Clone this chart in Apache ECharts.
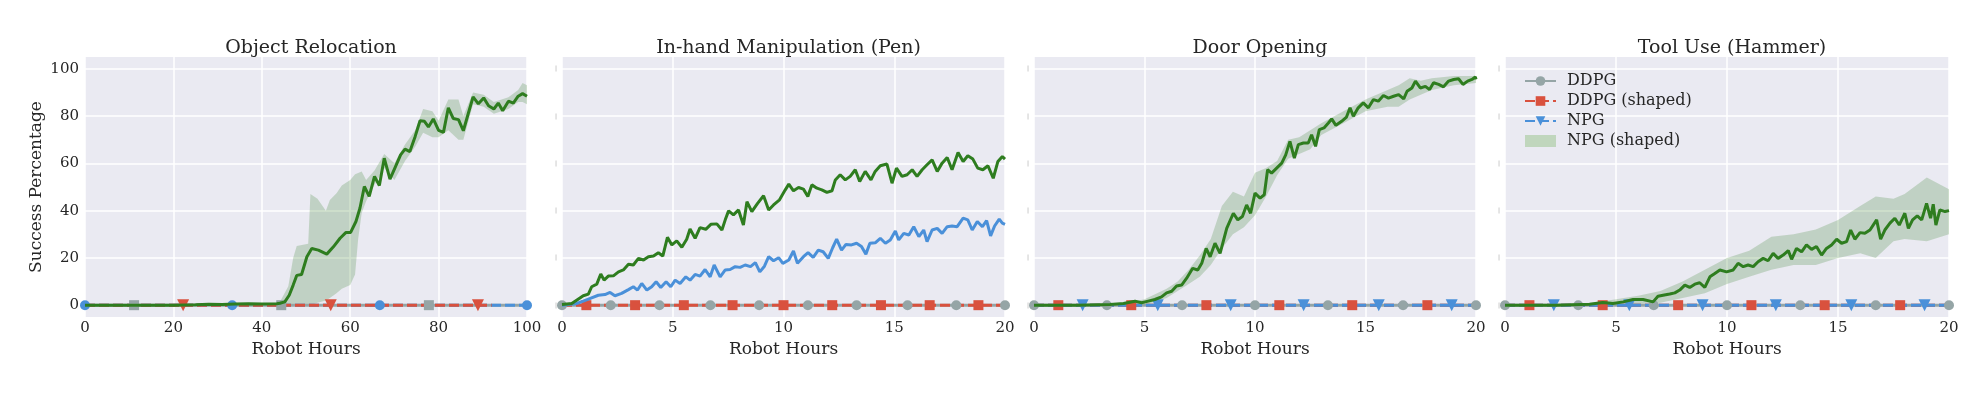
<!DOCTYPE html>
<html><head><meta charset="utf-8">
<script src="https://cdn.jsdelivr.net/npm/echarts@6/dist/echarts.min.js"></script>
<style>html,body{margin:0;padding:0;background:#fff}#c{width:1984px;height:394px}</style>
</head><body><div id="c"></div><script>
// ---------------- data ----------------
const titles = ['Object Relocation', 'In-hand Manipulation (Pen)', 'Door Opening', 'Tool Use (Hammer)'];
const xMaxes = [100, 20, 20, 20];
const xSteps = [20, 5, 5, 5];
const yTicks = [0, 20, 40, 60, 80, 100];
const legendNames = ['DDPG', 'DDPG (shaped)', 'NPG', 'NPG (shaped)'];

// Object Relocation (NPG shaped)
const reloX = [0,5,10,15,20,25,28,31,34,37,40,43.4,44.1,45.2,46.2,47.1,47.9,49.0,50.2,51.3,52.8,54.7,56.2,57.7,59.0,60.1,61.3,62.2,63.2,64.3,65.5,66.6,67.7,69.0,70.1,71.4,72.4,73.5,74.7,75.8,76.8,77.7,78.8,80.0,81.1,82.2,83.3,84.5,85.6,86.7,87.8,89.0,90.2,91.3,92.5,93.5,94.5,95.8,96.9,98.0,99.0,100];
const reloY = [0,0,0,0,0,0.2,0.4,0.3,0.5,0.6,0.5,0.6,0.8,1.4,4.2,8.5,12.6,13,20.5,24,23.3,21.6,24.7,28.3,30.7,30.8,35.4,41,50.2,46,54.5,50.6,62.2,53.3,58,63.6,66,65,71.4,78,77.8,75.4,78.8,74,73.1,83.5,79,78.5,73.8,81,88.1,85.2,87.7,84.4,83,85.5,82.3,86.3,85.5,88.4,89.5,88.4];
const reloBandX = [0,44,46,47.1,47.9,50.5,51.0,52.6,54.5,55.4,56.9,58.1,60.0,61.1,61.8,62.6,63.6,65.5,67.7,70.0,72.4,74.7,76.5,78.6,80.0,82.2,84.5,85.6,87.8,90.2,92.5,95.8,98.0,99.0,100];
const reloBandLo = [0,0,0,0,0,0,0,1,2,3,5,7,8.5,13,28,39,44,51,58,53,61,67,73,71,71,74,70,70,85,84,81,83,86,86,85];
const reloBandHi = [0,1,8,20,25,26,47,45,40,44.5,47.4,50.6,53,55.4,55.9,56.6,53,57,64,60,68,74,83,82,78,87,87,80,90,89,86,88,91,94,93];
const reloBlueMarks = [0, 33.3, 66.7, 100];
const reloGreyMarks = [11.1, 44.4, 77.8];
const reloRedMarks = [22.2, 55.6, 88.9];
const reloRedSpan = [0, 92];

// In-hand Manipulation (Pen)
const penGreenX = [0,0.44,0.66,0.96,1.19,1.34,1.57,1.75,1.9,2.09,2.32,2.55,2.77,3.0,3.22,3.45,3.68,3.9,4.13,4.35,4.55,4.76,4.96,5.18,5.41,5.63,5.78,6.01,6.23,6.49,6.72,6.99,7.22,7.37,7.52,7.74,7.97,8.19,8.35,8.57,8.83,9.1,9.33,9.55,9.82,10.08,10.24,10.45,10.68,10.9,11.1,11.28,11.51,11.73,11.96,12.19,12.34,12.56,12.79,13.01,13.24,13.44,13.69,13.95,14.14,14.37,14.67,14.9,15.1,15.35,15.58,15.81,16.03,16.26,16.48,16.71,16.94,17.16,17.39,17.61,17.88,18.11,18.32,18.55,18.77,19.0,19.23,19.47,19.68,19.88,20];
const penGreenY = [0.3,0.7,2.1,4,4.7,7.8,8.9,13.2,10.6,12.3,12.4,14.1,14.9,17.3,17,19.8,19.1,20.5,20.8,22.2,20.8,28.7,25.5,27.2,24.5,27.9,32.2,28.3,32.8,32.1,34.2,34.4,31.8,36.1,39.9,38.2,40.3,33.9,43.8,39.6,43.1,46.3,40.3,42.4,44.6,48.8,51.2,48.4,49.8,49.1,46,50.9,49.5,48.8,47.7,48.4,53,55.2,53,54.5,57.3,52.3,56.6,53,56.6,59,59.7,51.6,58,54.5,55.2,57.3,54.5,57.3,59.4,61.5,56.6,60.1,62.5,57.3,64.6,60.8,63.2,61.8,58,57.3,59,53.7,60.8,62.9,61.8];
const penBlueX = [0,0.66,0.96,1.25,1.64,1.94,2.17,2.39,2.69,3.0,3.22,3.41,3.6,3.83,4.05,4.25,4.46,4.7,4.91,5.11,5.33,5.59,5.78,6.01,6.23,6.46,6.69,6.87,7.14,7.37,7.59,7.82,8.04,8.27,8.51,8.73,8.93,9.14,9.33,9.55,9.78,9.97,10.24,10.45,10.63,10.9,11.11,11.34,11.57,11.79,12.02,12.22,12.4,12.62,12.82,13.07,13.3,13.52,13.72,13.9,14.14,14.37,14.6,14.82,15.05,15.2,15.43,15.66,15.88,16.11,16.33,16.48,16.71,16.94,17.16,17.39,17.61,17.84,18.11,18.32,18.52,18.75,18.98,19.17,19.35,19.53,19.74,19.88,20];
const penBlueY = [0,0.7,1.7,2.8,4.2,4.5,5.4,4,5,6.6,7.8,6.4,9.2,6.4,7.8,9.9,7.5,9.9,7.8,10.6,9.2,12,10.6,13,12.3,15.1,12,17,12,14.9,15.1,16.3,16,17,16.3,18,14.1,16.5,20.5,18.8,20.1,17.7,19.1,22.9,17.7,20.5,22.2,20.2,23.3,22.6,19.8,24.3,27.9,23.3,25.7,25.5,26.2,24.8,21.6,26.2,26.4,28.3,26.2,27.6,31.4,27.6,30.4,29.7,33.2,29,31.8,26.9,31.8,32.5,30.4,33.2,33.5,33.2,36.8,36.1,31.8,35.4,33.2,35.8,29.3,33.5,36.4,34.7,34.2];
const penGreyMarks = [0,2.2,4.4,6.7,8.9,11.1,13.3,15.6,17.8,20];
const penRedMarks = [1.1,3.3,5.5,7.7,10,12.2,14.4,16.6,18.8];

// Door Opening
const doorX = [0,1.93,3.44,4.05,4.57,4.87,5.17,5.47,5.77,6.0,6.23,6.45,6.68,6.9,7.18,7.41,7.59,7.79,7.97,8.19,8.42,8.72,9.02,9.22,9.43,9.62,9.8,10.0,10.23,10.42,10.57,10.75,10.98,11.21,11.39,11.58,11.78,11.96,12.19,12.41,12.56,12.74,12.91,13.12,13.32,13.47,13.66,13.92,14.14,14.3,14.45,14.67,14.9,15.13,15.36,15.58,15.81,16.04,16.27,16.5,16.73,16.88,17.1,17.26,17.48,17.71,17.9,18.08,18.31,18.53,18.76,18.99,19.21,19.41,19.62,19.82,19.97,20];
const doorY = [0,0,0.3,0.7,1.7,1,1.7,2.4,3.5,5.2,5.9,8.1,8.5,11.3,15.6,14.9,17.7,24,20.5,26.2,21.9,32.5,38.9,36.1,37.5,42.4,38.9,47.4,45.3,46.7,57.3,55.9,58,60.1,63.6,69.3,62.2,67.9,68.6,68.6,72.1,67.2,74.3,75,77.1,78.8,76.1,77.8,79.6,83.5,79.9,83.5,85.6,83.5,87,86.3,88.7,87.6,88.4,89.1,87.3,90.5,91.9,94.8,91.9,92.6,91.2,94.1,93.4,92.4,94.8,95.5,95.8,93.4,94.8,95.5,96.6,95.5];
const doorBandX = [0,4,5,6,6.5,7,7.5,8,8.5,9,9.5,10,10.5,11,11.5,12,12.5,13,14,15,16,16.5,17,17.5,18,19,20];
const doorBandLo = [0,0,0,3,6,9,12,17,24,30,33,38,46,55,62,64,66,72,77,82,84,84,87,89,91,93,94];
const doorBandHi = [0,0.5,2.5,7,10,15,21,28,42,48,46,56,58,61,70,71,74,77,82,87,91,93,96,95,96,97,97];

// Tool Use (Hammer)
const hamX = [0,2.31,3.81,4.41,4.86,5.32,5.77,6.22,6.67,6.89,7.12,7.42,7.65,7.87,8.1,8.32,8.55,8.77,9.0,9.23,9.45,9.68,9.98,10.28,10.5,10.73,10.95,11.18,11.4,11.63,11.85,12.08,12.3,12.53,12.76,12.91,13.13,13.36,13.58,13.81,14.03,14.26,14.48,14.71,14.94,15.16,15.39,15.57,15.76,15.99,16.21,16.44,16.74,16.92,17.11,17.34,17.56,17.76,18.01,18.17,18.36,18.57,18.77,18.99,19.17,19.29,19.41,19.59,19.82,20];
const hamY = [0,0,0.4,1.1,0.7,1.4,2.4,2.4,1.4,3.8,4.2,4.7,5.2,6.4,8.5,7.5,8.9,9.5,7.5,12,13.4,14.9,14.1,14.9,17.7,16.3,17,16.3,18.4,19.8,18.8,21.9,19.8,21.2,23.1,19.4,24,22.6,25.5,23.6,24.8,21.2,24,25.5,27.9,26.2,26.9,31.8,27.9,30.7,30.4,31.8,36.1,27.9,31.8,34.7,36.8,33.9,38.9,32.5,36.1,37.8,36.1,43.1,36.8,42.7,33.9,40.3,39.6,40];
const hamBandX = [0,4,5,6,7,8,9,10,11,12,13,14,15,16,16.7,17.5,18,19,20];
const hamBandLo = [0,0,0,0.5,1,3,5,9,12,15,17,17,20,22,20,27,28,27,30];
const hamBandHi = [0,1,2.5,4,6,10,15,20,23,29,30,32,36,42,46,45,47,54,49];

// zero-line markers for door / hammer
const dhGreyMarks = [0,3.3,6.7,10,13.3,16.7,20];
const dhRedMarks = [1.1,4.4,7.8,11.1,14.4,17.8];
const dhBlueMarks = [2.2,5.6,8.9,12.2,15.6,18.9];

// ---------------- style ----------------
const FONT = 'DejaVu Serif';
const C = { grey:'#95a5a6', red:'#d9513e', blue:'#4a90d9', green:'#2e7d1f',
  band:'rgba(46,125,31,0.22)', bandLegend:'#c0d6bd', text:'#262626', bg:'#eaeaf2' };
const gridBoxes = [[85, 442], [562, 443], [1034, 442], [1505, 444]];
const TOP = 57, H = 260;
const DASH = [10, 4];

function pts(xs, ys) { return xs.map((x, i) => [x, ys[i]]); }

function zeroLine(gi, name, marks, span, color, symbol, rotate, dashed) {
  const data = marks.map(m => ({ value: [m, 0] }));
  if (marks.indexOf(span[0]) < 0) data.push({ value: [span[0], 0], symbol: 'none' });
  if (marks.indexOf(span[1]) < 0) data.push({ value: [span[1], 0], symbol: 'none' });
  data.sort((a, b) => a.value[0] - b.value[0]);
  return { type:'line', name, xAxisIndex:gi, yAxisIndex:gi, data, symbol,
    symbolSize: symbol === 'triangle' ? 12 : 10, symbolRotate: rotate, showAllSymbol: true,
    lineStyle:{ color, width:3, type: dashed ? DASH : 'solid' }, itemStyle:{ color },
    emphasis:{ disabled:true }, z:3 };
}
// band drawn as one polygon through the axes' own coordinate conversion
function band(gi, xs, lo, hi) {
  const data = xs.map((x, i) => [x, lo[i], hi[i]]);
  return { type:'custom', name:'NPG (shaped)', xAxisIndex:gi, yAxisIndex:gi, data,
    encode:{ x:0, y:[1, 2] }, clip:true, z:1, silent:true,
    itemStyle:{ color:C.bandLegend },
    renderItem(params, api) {
      if (params.dataIndex !== 0) return null;
      const upper = data.map(d => api.coord([d[0], d[2]]));
      const lower = data.map(d => api.coord([d[0], d[1]])).reverse();
      return { type:'polygon', shape:{ points: upper.concat(lower) },
        style:{ fill:C.band, stroke:'none' } };
    } };
}
function meanLine(gi, name, xs, ys, color) {
  return { type:'line', name, xAxisIndex:gi, yAxisIndex:gi, data: pts(xs, ys), symbol:'none',
    lineStyle:{ color, width:3 }, itemStyle:{ color }, z:4, emphasis:{disabled:true} };
}

const series = [];
// panel 4 first so that legend icons come from it
series.push(band(3, hamBandX, hamBandLo, hamBandHi));
series.push(zeroLine(3, 'DDPG', dhGreyMarks, [0, 20], C.grey, 'circle', 0, false));
series.push(zeroLine(3, 'DDPG (shaped)', dhRedMarks, [0, 20], C.red, 'rect', 0, true));
series.push(zeroLine(3, 'NPG', dhBlueMarks, [0, 20], C.blue, 'triangle', 180, true));
series.push(meanLine(3, 'NPG (shaped) mean', hamX, hamY, C.green));
// panel 1
series.push(band(0, reloBandX, reloBandLo, reloBandHi));
series.push(zeroLine(0, 'DDPG', reloGreyMarks, [0, 100], C.grey, 'rect', 0, false));
series.push(zeroLine(0, 'NPG', reloBlueMarks, [0, 100], C.blue, 'circle', 0, true));
series.push(zeroLine(0, 'DDPG (shaped)', reloRedMarks, reloRedSpan, C.red, 'triangle', 180, true));
series.push(meanLine(0, 'NPG (shaped) mean', reloX, reloY, C.green));
// panel 2
series.push(zeroLine(1, 'DDPG', penGreyMarks, [0, 20], C.grey, 'circle', 0, false));
series.push(zeroLine(1, 'DDPG (shaped)', penRedMarks, [0, 20], C.red, 'rect', 0, true));
series.push(meanLine(1, 'NPG', penBlueX, penBlueY, C.blue));
series.push(meanLine(1, 'NPG (shaped) mean', penGreenX, penGreenY, C.green));
// panel 3
series.push(band(2, doorBandX, doorBandLo, doorBandHi));
series.push(zeroLine(2, 'DDPG', dhGreyMarks, [0, 20], C.grey, 'circle', 0, false));
series.push(zeroLine(2, 'DDPG (shaped)', dhRedMarks, [0, 20], C.red, 'rect', 0, true));
series.push(zeroLine(2, 'NPG', dhBlueMarks, [0, 20], C.blue, 'triangle', 180, true));
series.push(meanLine(2, 'NPG (shaped) mean', doorX, doorY, C.green));

const grid = gridBoxes.map(([l, w]) => ({ left:l, top:TOP, width:w, height:H, show:true,
  backgroundColor:C.bg, borderWidth:0, containLabel:false }));

const xAxis = gridBoxes.map((g, i) => ({
  type:'value', gridIndex:i, min:0, max:xMaxes[i], interval:xSteps[i],
  axisLine:{ show:false }, axisTick:{ show:false },
  splitLine:{ show:true, lineStyle:{ color:'#ffffff', width:1.5 } },
  axisLabel:{ fontFamily:FONT, fontSize:15, color:C.text, margin:4 },
  name:'Robot Hours', nameLocation:'middle', nameGap:21,
  nameTextStyle:{ fontFamily:FONT, fontSize:17, color:C.text }
}));

const yAxis = gridBoxes.map((g, i) => ({
  type:'value', gridIndex:i, min:-5, max:105,
  axisLine:{ show:false },
  axisTick:{ show:false, customValues:yTicks },
  splitLine:{ show:true, lineStyle:{ color:'#ffffff', width:1.5 } },
  axisLabel: i === 0
    ? { customValues:yTicks, fontFamily:FONT, fontSize:15, color:C.text, margin:6 }
    : { customValues:yTicks, formatter:() => '|', fontFamily:FONT, fontSize:6, color:'#9a9a9a', margin:5 },
  name: i === 0 ? 'Success Percentage' : '', nameLocation:'middle', nameGap:40,
  nameTextStyle:{ fontFamily:FONT, fontSize:17, color:C.text }
}));

const title = gridBoxes.map(([l, w], i) => ({
  text:titles[i], left:l + w / 2, top:34, textAlign:'center',
  textStyle:{ fontFamily:FONT, fontSize:19, fontWeight:'normal', color:C.text }
}));

const option = {
  animation:false,
  backgroundColor:'#ffffff',
  title, grid, xAxis, yAxis, series,
  legend:{
    orient:'vertical', left:1519, top:68, itemWidth:31, itemHeight:12, itemGap:4,
    selectedMode:false,
    textStyle:{ fontFamily:FONT, fontSize:16, color:C.text, padding:[0,0,0,6] },
    data:[
      legendNames[0], legendNames[1], legendNames[2],
      { name:legendNames[3], icon:'rect', itemStyle:{ color:C.bandLegend } }
    ]
  }
};

const chart = echarts.init(document.getElementById('c'), null, { renderer:'canvas' });
chart.setOption(option);
</script></body></html>
